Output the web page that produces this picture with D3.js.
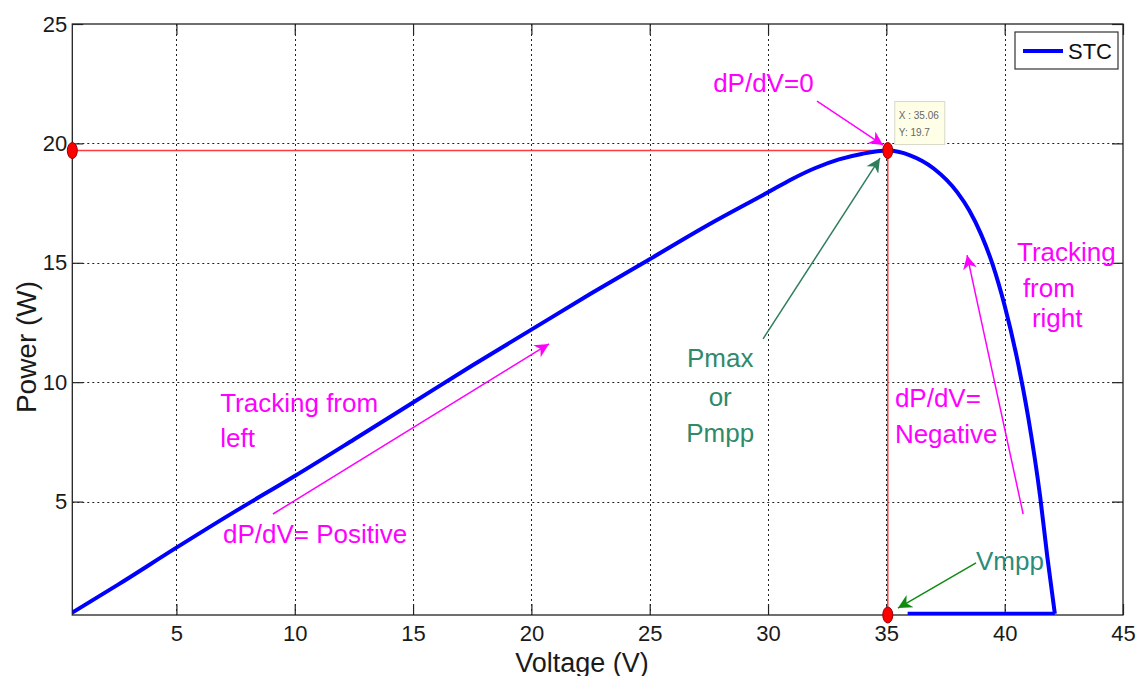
<html>
<head>
<script src="https://cdn.jsdelivr.net/npm/d3@7"></script>
<style>
  body { margin: 0; background: #fff; }
  text { font-family: Arial, "Liberation Sans", sans-serif; }
</style>
</head>
<body>
<svg id="chart" width="1139" height="676"></svg>
<script>
// P-V curve of the module at STC
var voltage = [0.6, 2.5, 5, 7.5, 10, 12.5, 15, 17.5, 20, 22.5, 25, 27.5, 30, 31, 32, 33, 34, 35.06,
               36, 37, 38, 38.5, 39, 39.5, 40, 40.5, 41, 41.5, 41.8, 42.12, 35.9];
var power   = [0.35, 1.5, 3.07, 4.6, 6.07, 7.6, 9.15, 10.7, 12.2, 13.7, 15.15, 16.6, 17.95, 18.5, 18.97, 19.33, 19.57, 19.7,
               19.5, 18.95, 17.95, 17.2, 16.2, 14.9, 13.2, 11.1, 8.5, 5.2, 2.7, 0.3, 0.3];
var xTicks = [5, 10, 15, 20, 25, 30, 35, 40, 45];
var yTicks = [5, 10, 15, 20, 25];
var mppV = 35.06, mppP = 19.7;
var seriesName = "STC";

var svg = d3.select("#chart");
var pLeft = 72.3, pRight = 1123, pTop = 24, pBottom = 615;

var x = d3.scaleLinear().domain([0.6, 45]).range([pLeft, pRight]);
var y = d3.scaleLinear().domain([0.25, 25]).range([pBottom, pTop]);

svg.append("rect").attr("width", 1139).attr("height", 676).attr("fill", "#fff");

// grid
var grid = svg.append("g").attr("stroke", "#222").attr("stroke-width", 1).attr("stroke-dasharray", "2,3");
grid.selectAll(".gx").data(xTicks.filter(function(d) { return d < 45; })).enter().append("line")
  .attr("x1", function(d) { return Math.round(x(d)) + 0.5; })
  .attr("x2", function(d) { return Math.round(x(d)) + 0.5; })
  .attr("y1", pTop).attr("y2", pBottom);
grid.selectAll(".gy").data(yTicks.filter(function(d) { return d < 25; })).enter().append("line")
  .attr("y1", function(d) { return Math.round(y(d)) + 0.5; })
  .attr("y2", function(d) { return Math.round(y(d)) + 0.5; })
  .attr("x1", pLeft).attr("x2", pRight);

// axes (inward ticks, matlab style)
function styleAxis(g) {
  g.select(".domain").remove();
  g.selectAll(".tick line").attr("stroke", "#222").attr("stroke-width", 1.2);
  g.selectAll(".tick text").attr("fill", "#1a1a1a").style("font-size", "22px")
    .style("font-family", "Arial, 'Liberation Sans', sans-serif");
}
svg.append("g").attr("transform", "translate(0," + pBottom + ")")
  .call(d3.axisBottom(x).tickValues(xTicks).tickSize(-11).tickPadding(10)).call(styleAxis);
svg.append("g").attr("transform", "translate(" + pLeft + ",0)")
  .call(d3.axisLeft(y).tickValues(yTicks).tickSize(-11).tickPadding(5)).call(styleAxis);
svg.append("g").attr("transform", "translate(0," + pTop + ")")
  .call(d3.axisTop(x).tickValues(xTicks).tickSize(-11).tickFormat("")).call(styleAxis);
svg.append("g").attr("transform", "translate(" + pRight + ",0)")
  .call(d3.axisRight(y).tickValues(yTicks).tickSize(-11).tickFormat("")).call(styleAxis);

svg.append("rect").attr("x", pLeft).attr("y", pTop).attr("width", pRight - pLeft).attr("height", pBottom - pTop)
  .attr("fill", "none").attr("stroke", "#222").attr("stroke-width", 1.3);

// axis titles
svg.append("text").attr("x", 582).attr("y", 672).attr("text-anchor", "middle")
  .style("font-size", "27px").attr("fill", "#1a1a1a").text("Voltage (V)");
svg.append("text").attr("transform", "translate(36," + 347 + ") rotate(-90)").attr("text-anchor", "middle")
  .style("font-size", "28px").attr("fill", "#1a1a1a").text("Power (W)");

// mpp guide lines
svg.append("line").attr("x1", pLeft).attr("x2", x(mppV)).attr("y1", y(mppP)).attr("y2", y(mppP))
  .attr("stroke", "#ff3b3b").attr("stroke-width", 1.5);
svg.append("line").attr("x1", x(mppV)).attr("x2", x(mppV)).attr("y1", y(mppP)).attr("y2", pBottom)
  .attr("stroke", "#ff3b3b").attr("stroke-width", 1.5);

// curve
svg.append("clipPath").attr("id", "clip").append("rect")
  .attr("x", pLeft).attr("y", pTop - 2).attr("width", pRight - pLeft).attr("height", pBottom - pTop + 2);
var pts = voltage.map(function(v, i) { return [v, power[i]]; });
svg.append("path").datum(pts.slice(0, pts.length - 1))
  .attr("d", d3.line().x(function(d) { return x(d[0]); }).y(function(d) { return y(d[1]); }).curve(d3.curveMonotoneX))
  .attr("fill", "none").attr("stroke", "#0000ff").attr("stroke-width", 4).attr("stroke-linejoin", "round")
  .attr("clip-path", "url(#clip)");
svg.append("path").datum(pts.slice(pts.length - 2))
  .attr("d", d3.line().x(function(d) { return x(d[0]); }).y(function(d) { return y(d[1]); }))
  .attr("fill", "none").attr("stroke", "#0000ff").attr("stroke-width", 4)
  .attr("clip-path", "url(#clip)");

// red markers
var markers = [[0.6, mppP], [mppV, mppP], [mppV, 0.25]];
svg.selectAll(".mk").data(markers).enter().append("ellipse")
  .attr("cx", function(d) { return x(d[0]); }).attr("cy", function(d) { return y(d[1]); })
  .attr("rx", 5).attr("ry", 8).attr("fill", "#ff0000").attr("stroke", "#990000").attr("stroke-width", 1);

// data tip
var tip = svg.append("g").attr("transform", "translate(" + (x(mppV) + 7) + "," + (y(mppP) - 49) + ")");
tip.append("rect").attr("width", 50).attr("height", 43).attr("fill", "#ffffe8").attr("stroke", "#d8d8c8");
tip.append("text").attr("x", 4).attr("y", 17).style("font-size", "10px").attr("fill", "#666").text("X : " + mppV.toFixed(2));
tip.append("text").attr("x", 4).attr("y", 34).style("font-size", "10px").attr("fill", "#666").text("Y: " + mppP);

// legend
var lg = svg.append("g").attr("transform", "translate(1015,32)");
lg.append("rect").attr("width", 103).attr("height", 37).attr("fill", "#fff").attr("stroke", "#333").attr("stroke-width", 1.2);
lg.append("line").attr("x1", 8).attr("x2", 48).attr("y1", 19).attr("y2", 19).attr("stroke", "#0000ff").attr("stroke-width", 4);
lg.append("text").attr("x", 53).attr("y", 27).style("font-size", "22px").attr("fill", "#111").text(seriesName);

// arrows
var defs = svg.append("defs");
function arrowHead(id, color) {
  defs.append("marker").attr("id", id).attr("viewBox", "0 0 10 10").attr("refX", 10).attr("refY", 5)
    .attr("markerWidth", 16).attr("markerHeight", 14).attr("markerUnits", "userSpaceOnUse").attr("orient", "auto")
    .append("path").attr("d", "M0,0 L10,5 L0,10 L3,5 Z").attr("fill", color);
}
arrowHead("am", "#ff00ff");
arrowHead("ag", "#2e7d5b");
arrowHead("ag2", "#108a10");
function arrow(v1, p1, v2, p2, color, head) {
  svg.append("line").attr("x1", x(v1)).attr("y1", y(p1)).attr("x2", x(v2)).attr("y2", y(p2))
    .attr("stroke", color).attr("stroke-width", 1.5).attr("marker-end", "url(#" + head + ")");
}
arrow(32.07, 21.77, 34.86, 19.93, "#ff00ff", "am");
arrow(29.79, 11.81, 34.73, 19.38, "#2e7d5b", "ag");
arrow(9.08, 4.48, 20.74, 11.6, "#ff00ff", "am");
arrow(40.78, 4.48, 38.41, 15.32, "#ff00ff", "am");
arrow(38.79, 2.43, 35.49, 0.54, "#108a10", "ag2");

// annotations
function label(v, p, s, color, anchor) {
  svg.append("text").attr("x", x(v)).attr("y", y(p)).attr("text-anchor", anchor || "start")
    .style("font-size", "26px").attr("fill", color).text(s);
}
var mag = "#ff00ff", grn = "#2f8a6a";
label(27.68, 22.15, "dP/dV=0", mag);
label(27.98, 10.63, "Pmax", grn, "middle");
label(27.98, 9.0, "or", grn, "middle");
label(27.98, 7.49, "Pmpp", grn, "middle");
label(6.85, 8.75, "Tracking from", mag);
label(6.85, 7.28, "left", mag);
label(6.97, 3.26, "dP/dV= Positive", mag);
label(40.52, 15.07, "Tracking", mag);
label(40.77, 13.56, "from", mag);
label(41.15, 12.31, "right", mag);
label(35.36, 8.96, "dP/dV=", mag);
label(35.36, 7.45, "Negative", mag);
label(38.79, 2.13, "Vmpp", "#2a8c7a");
</script>
</body>
</html>
